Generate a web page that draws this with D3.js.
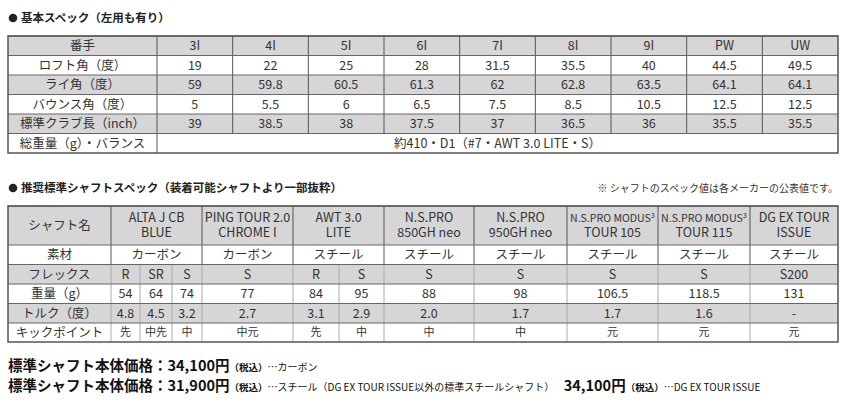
<!DOCTYPE html>
<html><head><meta charset="utf-8">
<script src="https://cdn.jsdelivr.net/npm/d3@7"></script>
<style>body{margin:0;background:#fff}text{font-family:"Noto Sans CJK JP","Noto Sans",sans-serif;fill:#333}</style>
</head><body>
<script>
// basic specs
const clubs = ["3I","4I","5I","6I","7I","8I","9I","PW","UW"]
const loft = [19,22,25,28,31.5,35.5,40,44.5,49.5]
const lie = [59,59.8,60.5,61.3,62,62.8,63.5,64.1,64.1]
const bounce = [5,5.5,6,6.5,7.5,8.5,10.5,12.5,12.5]
const length = [39,38.5,38,37.5,37,36.5,36,35.5,35.5]
const totalWeight = "約410・D1（#7・AWT 3.0 LITE・S）"

// shaft specs
const shafts = [["ALTA J CB","BLUE"],["PING TOUR 2.0","CHROME I"],["AWT 3.0","LITE"],["N.S.PRO","850GH neo"],["N.S.PRO","950GH neo"],["N.S.PRO MODUS³","TOUR 105"],["N.S.PRO MODUS³","TOUR 115"],["DG EX TOUR","ISSUE"]]
const material = ["カーボン","カーボン","スチール","スチール","スチール","スチール","スチール","スチール"]
const flexes = ["R","SR","S","S","R","S","S","S","S","S","S200"]
const shaftWeight = [54,64,74,77,84,95,88,98,106.5,118.5,131]
const torque = ["4.8","4.5","3.2","2.7","3.1","2.9","2.0","1.7","1.7","1.6","-"]
const kick = ["先","中先","中","中元","先","中","中","中","元","元","元"]
const shaftSpan = [3,1,2,1,1,1,1,1]

const svg = d3.select("body").append("svg").attr("width",849).attr("height",406)

function title(y, t) {
  svg.append("circle").attr("cx",13).attr("cy",y-4).attr("r",4.3).attr("fill","#222")
  svg.append("text").attr("x",21).attr("y",y).attr("font-size",11.5).attr("font-weight","bold").style("fill","#222").text(t)
}

function table(x, rowY, rows) {
  const g = svg.append("g")
  rows.forEach((r, i) => {
    const y0 = rowY[i], y1 = rowY[i+1]
    g.append("rect").attr("x",x(0)).attr("y",y0).attr("width",x.range()[1]-x(0)).attr("height",y1-y0)
      .attr("fill", r.gray ? "#d6d6d6" : "#fff")
    let c = 0
    r.cells.forEach(cell => {
      const [txt, span, fs] = cell
      const xa = x(c), xb = x(c+span)
      const lines = Array.isArray(txt) ? txt : [String(txt)]
      const lh = 15, top = (y0+y1)/2 - (lines.length-1)*lh/2
      lines.forEach((l, k) => {
        const t = g.append("text").attr("x",(xa+xb)/2).attr("y",top+k*lh).attr("dy","0.35em")
          .attr("text-anchor","middle").attr("font-size", fs || 12.5)
        if (l.includes("³")) {
          const p = l.split("³")
          t.attr("font-size",10).attr("textLength",xb-xa-6).attr("lengthAdjust","spacingAndGlyphs")
          t.append("tspan").text(p[0])
          t.append("tspan").attr("dy","-0.5em").attr("font-size",7).text("3")
        } else t.text(l)
      })
      if (c > 0) g.append("line").attr("x1",xa).attr("x2",xa).attr("y1",y0).attr("y2",y1).attr("stroke",span===1&&r.sub?"#aaa":"#555").attr("stroke-width",1)
      c += span
    })
    g.append("line").attr("x1",x(0)).attr("x2",x.range()[1]).attr("y1",y0).attr("y2",y0).attr("stroke","#666")
  })
  g.append("rect").attr("x",x(0)).attr("y",rowY[0]).attr("width",x.range()[1]-x(0)).attr("height",rowY[rows.length]-rowY[0])
    .attr("fill","none").attr("stroke","#555").attr("stroke-width",1.5)
}

// table 1
title(22, "基本スペック（左用も有り）")
const x1 = d3.scaleLinear().domain([0,9]).range([157,838])
const col1 = c => c===0 ? 8 : x1(c-1)
col1.range = () => [8,838]
const t1rows = [
  {gray:true, cells:[["番手",1],...clubs.map(d=>[d,1])]},
  {cells:[["ロフト角（度）",1],...loft.map(d=>[d,1])]},
  {gray:true, cells:[["ライ角（度）",1],...lie.map(d=>[d,1])]},
  {cells:[["バウンス角（度）",1],...bounce.map(d=>[d,1])]},
  {gray:true, cells:[["標準クラブ長（inch）",1],...length.map(d=>[d,1])]},
  {cells:[["総重量（g）・バランス",1],[totalWeight,9]]}
]
table(col1, d3.range(7).map(i => 36 + i*19.5), t1rows)

// table 2
title(192, "推奨標準シャフトスペック（装着可能シャフトより一部抜粋）")
svg.append("text").attr("x",838).attr("y",192).attr("text-anchor","end").attr("font-size",10).text("※ シャフトのスペック値は各メーカーの公表値です。")
const bounds2 = [8,111,140,172,202,293,339,384,474,567,658,750,838]
const col2 = c => bounds2[c]
col2.range = () => [8,838]
const t2rows = [
  {gray:true, cells:[["シャフト名",1],...shafts.map((d,i)=>[d,shaftSpan[i]])]},
  {cells:[["素材",1],...material.map((d,i)=>[d,shaftSpan[i]])]},
  {gray:true, sub:true, cells:[["フレックス",1],...flexes.map(d=>[d,1])]},
  {sub:true, cells:[["重量（g）",1],...shaftWeight.map(d=>[d,1])]},
  {gray:true, sub:true, cells:[["トルク（度）",1],...torque.map(d=>[d,1])]},
  {sub:true, cells:[["キックポイント",1],...kick.map(d=>[d,1,11])]}
]
table(col2, [206,245,264.5,284,303.5,323,342], t2rows)

// footer
function footer(y, parts) {
  const t = svg.append("text").attr("x",8).attr("y",y).style("fill","#111")
  parts.forEach(([s, fs, b]) => t.append("tspan").attr("font-size",fs).attr("font-weight",b?"bold":"normal").text(s))
}
footer(371, [["標準シャフト本体価格：34,100円",14.5,1],["（税込）",9.5,1],["…カーボン",10,0]])
footer(391, [["標準シャフト本体価格：31,900円",14.5,1],["（税込）",9.5,1],["…スチール（DG EX TOUR ISSUE以外の標準スチールシャフト）",10,0],["　34,100円",14.5,1],["（税込）",9.5,1],["…DG EX TOUR ISSUE",10,0]])
</script>
</body></html>
